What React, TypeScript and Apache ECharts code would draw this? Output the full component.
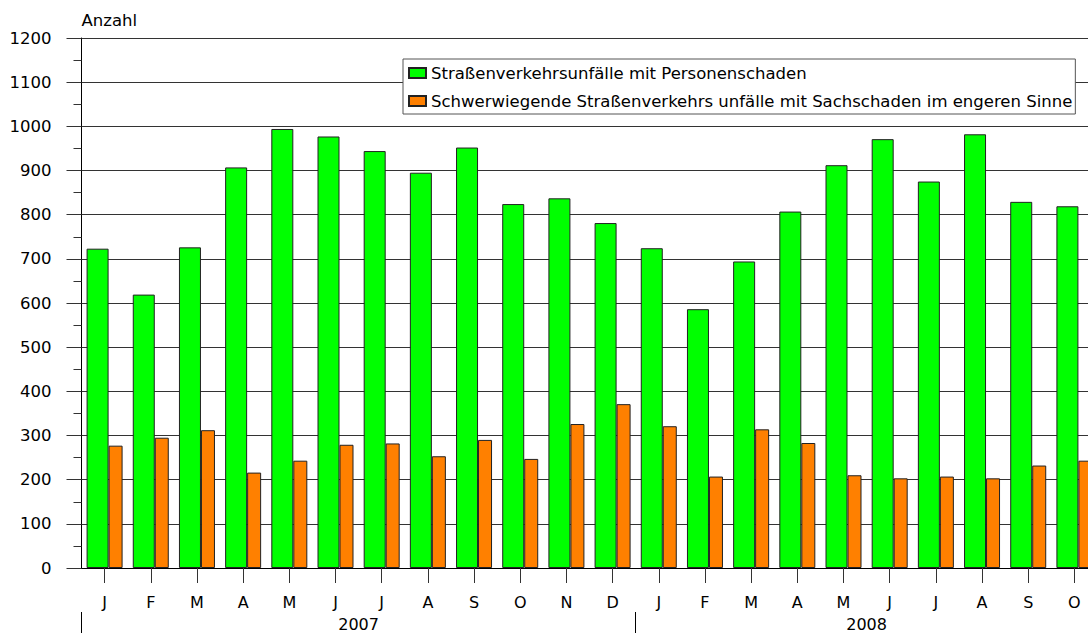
import React, { useEffect, useRef } from "react";
import * as echarts from "echarts";

const months = ["J", "F", "M", "A", "M", "J", "J", "A", "S", "O", "N", "D", "J", "F", "M", "A", "M", "J", "J", "A", "S", "O"];
const years = ["2007", "2008"];
const yearLabelPos = [6, 17];
const yearDividers = [0, 12];
const personenschaden = [723, 619, 726, 907, 994, 977, 944, 895, 952, 824, 837, 781, 724, 586, 694, 807, 912, 971, 875, 982, 829, 819];
const sachschaden = [277, 295, 312, 216, 243, 279, 282, 253, 290, 247, 326, 371, 321, 207, 314, 283, 210, 203, 207, 203, 232, 243];
const seriesNames = [
  "Straßenverkehrsunfälle mit Personenschaden",
  "Schwerwiegende Straßenverkehrs unfälle mit Sachschaden im engeren Sinne",
];

const FONT = "DejaVu Sans";

export default function App() {
  const ref = useRef<HTMLDivElement>(null);
  useEffect(() => {
    const chart = echarts.init(ref.current!, null, { renderer: "svg" });
    chart.setOption({
      animation: false,
      backgroundColor: "#fff",
      textStyle: { fontFamily: FONT },
      grid: { left: 81.5, top: 38, bottom: 65, width: 1016 },
      legend: {
        orient: "vertical",
        left: 403,
        top: 59,
        itemWidth: 17,
        itemHeight: 10,
        itemGap: 10,
        icon: "rect",
        padding: [5, 3, 4, 5],
        borderColor: "#555",
        borderWidth: 1,
        backgroundColor: "#fff",
        textStyle: { fontFamily: FONT, fontSize: 16.5, color: "#000", lineHeight: 18 },
        data: seriesNames,
      },
      xAxis: [
        {
          type: "category",
          data: months,
          position: "bottom",
          axisLine: { show: true, lineStyle: { color: "#000", width: 1 } },
          axisTick: { show: true, alignWithLabel: true, interval: 0, length: 15, lineStyle: { color: "#333", width: 1 } },
          axisLabel: { fontFamily: FONT, fontSize: 16, color: "#000", margin: 26, interval: 0 },
        },
        {
          type: "value",
          min: 0,
          max: 22,
          position: "bottom",
          offset: 44,
          axisLine: { show: false },
          splitLine: { show: false },
          axisTick: { show: true, customValues: yearDividers, length: 22, inside: false, lineStyle: { color: "#000" } },
          axisLabel: {
            customValues: yearLabelPos,
            fontFamily: FONT,
            fontSize: 16,
            color: "#000",
            margin: 4,
            formatter: (v: number) => years[yearLabelPos.indexOf(v)] ?? "",
          },
        },
      ],
      yAxis: {
        type: "value",
        min: 0,
        max: 1200,
        interval: 100,
        name: "Anzahl",
        nameLocation: "end",
        nameGap: 9,
        nameTextStyle: { fontFamily: FONT, fontSize: 16.5, color: "#000", align: "left" },
        axisLine: { show: true, lineStyle: { color: "#000" } },
        axisTick: { show: true, length: 15, lineStyle: { color: "#333" } },
        minorTick: { show: true, splitNumber: 2, length: 8, lineStyle: { color: "#333" } },
        splitLine: { show: true, lineStyle: { color: "#333", width: 1 } },
        axisLabel: { fontFamily: FONT, fontSize: 16.5, color: "#000", margin: 30, formatter: (v: number) => String(v) },
      },
      series: [
        {
          name: seriesNames[0],
          type: "bar",
          data: personenschaden,
          barWidth: 22,
          barGap: "0%",
          itemStyle: { color: "#00FF00", borderColor: "#222", borderWidth: 1 },
        },
        {
          name: seriesNames[1],
          type: "bar",
          data: sachschaden,
          barWidth: 14,
          barGap: "0%",
          itemStyle: { color: "#FF8000", borderColor: "#222", borderWidth: 1 },
        },
      ],
    });
    return () => chart.dispose();
  }, []);
  return (
    <div
      ref={ref}
      style={{ position: "fixed", left: 0, top: 0, width: 1100, height: 633 }}
    />
  );
}
